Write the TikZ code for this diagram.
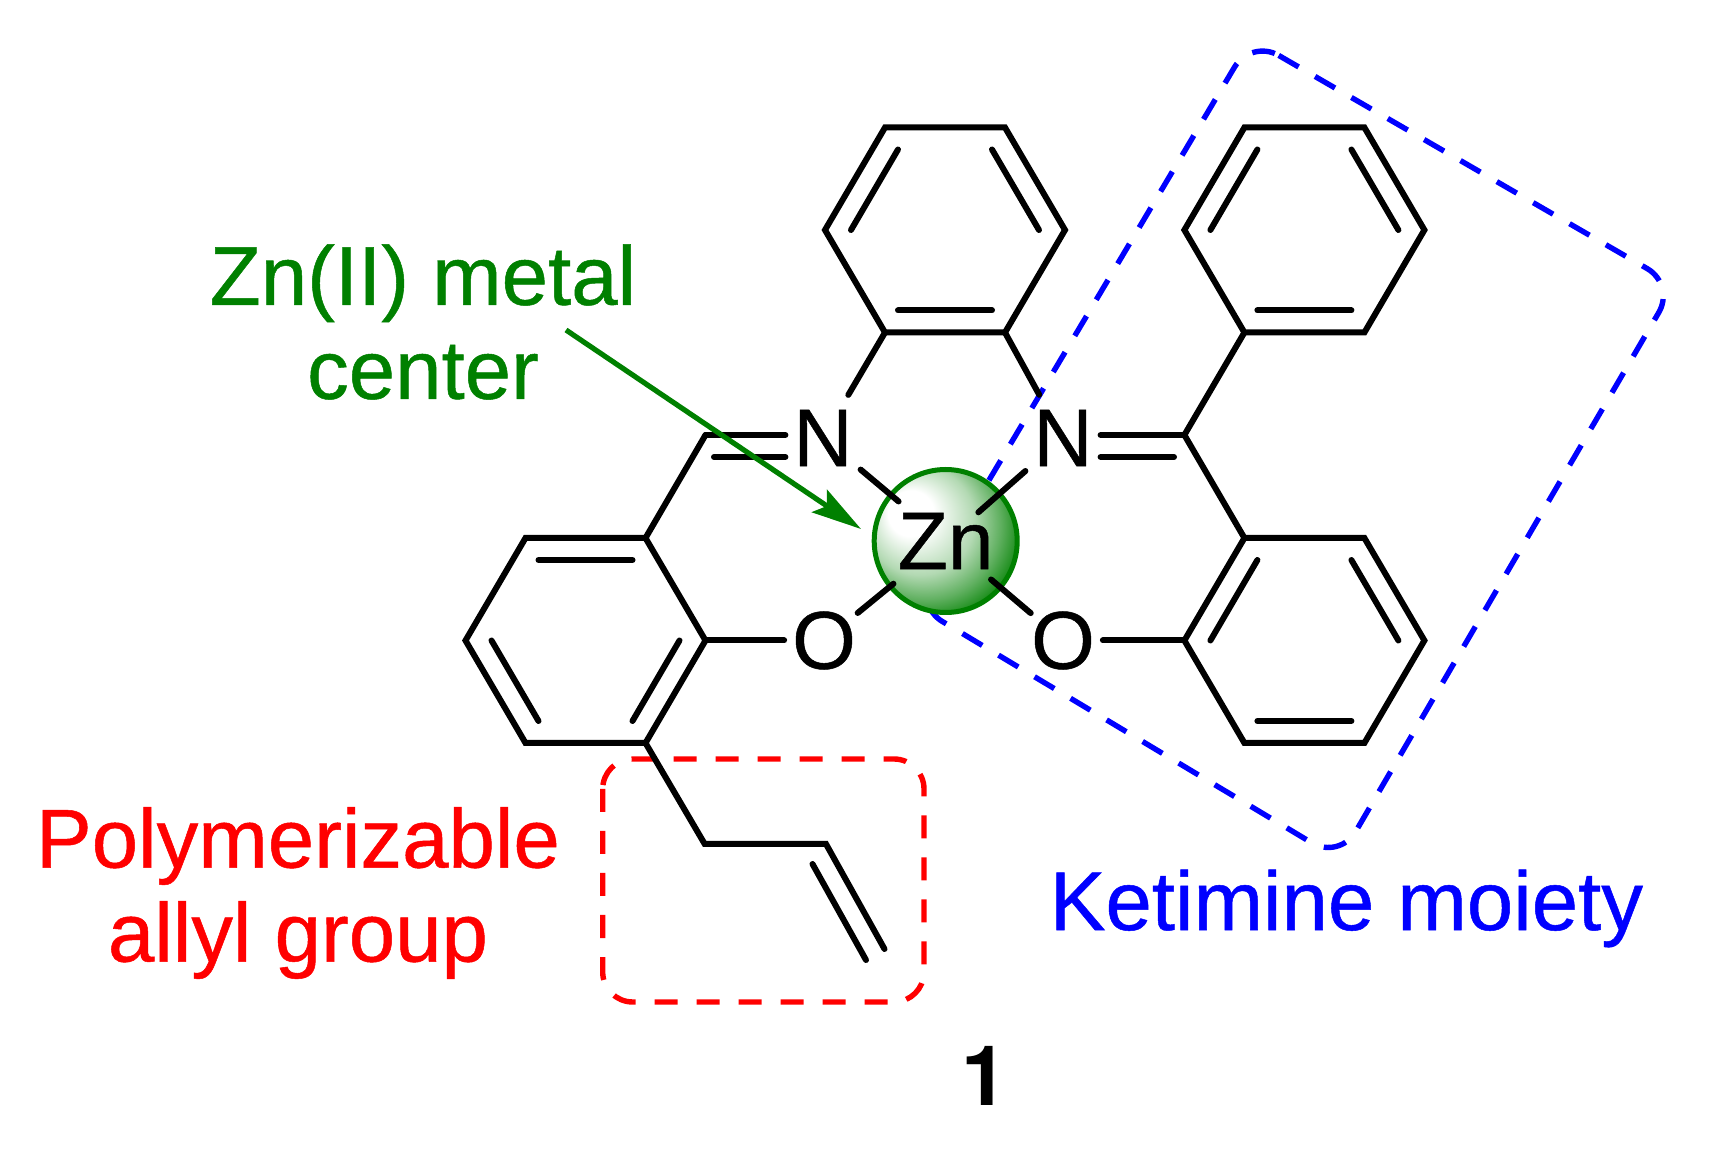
\documentclass[tikz,border=0pt]{standalone}
\usepackage{fontspec}
\setmainfont[FakeBold=0.6]{Liberation Sans}
\newfontfamily\numberfont{TeX Gyre Heros}
\usetikzlibrary{arrows.meta}
\definecolor{znbase}{RGB}{0,128,0}
\pgfdeclareradialshading{znshade}{\pgfpoint{-14.5bp}{11.5bp}}{color(0bp)=(white);color(8bp)=(white);color(19bp)=(znbase!30!white);color(26bp)=(znbase!62!white);color(31bp)=(znbase!88!white);color(35bp)=(znbase);color(50bp)=(znbase)}
\begin{document}
\begin{tikzpicture}[
    x=.5pt,y=-.5pt,
    bond/.style={line width=3pt,line cap=round,black},
    ring/.style={line width=3pt,line cap=round,black},
    atom/.style={font=\fontsize{41}{46}\selectfont,inner sep=4pt,outer sep=0pt},
    caption/.style={font=\fontsize{41.7}{47}\selectfont,align=center,inner sep=0pt},
    frame/.style={line width=2.7pt,dash pattern=on 11.5pt off 9.5pt}
    ]
    \useasboundingbox (0,0) rectangle (1715,1149);

    \draw[frame,blue,rounded corners=16pt] (1251,39.4) -- (1675,284.7) -- (1339.4,859.4) -- (914.8,605) -- cycle;
    \draw[frame,red,rounded corners=15pt] (602.7,759) rectangle (924,1002);

    \node[atom] (nleft) at (823,438) {N};
    \node[atom] (nright) at (1063,438) {N};
    \node[atom] (oleft) at (824,640.5) {O};
    \node[atom] (oright) at (1063,640.5) {O};

    % rings, numbered clockwise from the top left corner
    \foreach \name/\cx/\cy in {lring/585.5/640.5,mring/945/230,tring/1304.4/230,bring/1304.4/640.5} {
      \coordinate (\name1) at (\cx-60,\cy-102.5);
      \coordinate (\name2) at (\cx+60,\cy-102.5);
      \coordinate (\name3) at (\cx+120,\cy);
      \coordinate (\name4) at (\cx+60,\cy+102.5);
      \coordinate (\name5) at (\cx-60,\cy+102.5);
      \coordinate (\name6) at (\cx-120,\cy);
      \coordinate (\name i1) at (\cx-47,\cy-80.5);
      \coordinate (\name i2) at (\cx+47,\cy-80.5);
      \coordinate (\name i3) at (\cx+94,\cy);
      \coordinate (\name i4) at (\cx+47,\cy+80.5);
      \coordinate (\name i5) at (\cx-47,\cy+80.5);
      \coordinate (\name i6) at (\cx-94,\cy);
      \draw[ring] (\name1) -- (\name2) -- (\name3) -- (\name4) -- (\name5) -- (\name6) -- cycle;
    }
    \foreach \name in {mring,tring,bring} {
      \draw[bond] (\name i6) -- (\name i1);
      \draw[bond] (\name i2) -- (\name i3);
      \draw[bond] (\name i4) -- (\name i5);
    }
    \draw[bond] (lringi1) -- (lringi2);
    \draw[bond] (lringi3) -- (lringi4);
    \draw[bond] (lringi5) -- (lringi6);

    % imine carbons
    \coordinate (cleft) at (705.5,435);
    \coordinate (cleftin) at (714,457);
    \coordinate (cright) at (1184.4,435);
    \coordinate (crightin) at (1174,457);
    \draw[bond] (lring2) -- (cleft);
    \draw[bond] (cleft) -- (cleft -| nleft.west);
    \draw[bond] (cleftin) -- (cleftin -| nleft.west);
    \draw[bond] (cright) -- (cright -| nright.east);
    \draw[bond] (crightin) -- (crightin -| nright.east);
    \draw[bond] (cright) -- (bring1);
    \draw[bond] (cright) -- (tring5);
    \draw[bond,shorten >=4pt] (mring5) -- (nleft);
    \draw[bond,shorten >=4pt] (mring4) -- (nright);
    \draw[bond] (lring3) -- (oleft);
    \draw[bond] (bring6) -- (oright);

    % allyl
    \coordinate (ch2) at (704.7,844);
    \coordinate (chvinyl) at (826,844);
    \coordinate (chend) at (884.5,949);
    \coordinate (vinylin) at (812.5,864);
    \coordinate (vinylout) at (866,960);
    \draw[ring] (lring4) -- (ch2) -- (chvinyl) -- (chend);
    \draw[bond] (vinylin) -- (vinylout);

    \node[atom,circle,inner sep=0pt,minimum size=71.5pt,draw=znbase,line width=2.5pt,shade,shading=znshade] (zn) at (945.7,541) {Zn};
    \draw[bond,shorten >=-5pt] (nleft) -- (zn);
    \draw[bond,shorten >=-14pt] (nright) -- (zn);
    \draw[bond,shorten <=-4pt,shorten >=-2pt] (oleft) -- (zn);
    \draw[bond,shorten <=-5pt,shorten >=-6pt] (oright) -- (zn);

    \node[caption,text=znbase] (metal) at (423,322) {Zn(II) metal\\center};
    \node[caption,text=red] (allyl) at (298,893) {Polymerizable\\allyl group};
    \node[caption,text=blue,anchor=base] (ketimine) at (1346.5,930) {Ketimine moiety};
    \node[font=\fontsize{41.7}{47}\selectfont\numberfont\bfseries,inner sep=0pt,anchor=base] (label) at (984.5,1105) {1};

    \coordinate (arrowstart) at (566,330);
    \coordinate (arrowtip) at (861,529);
    \draw[znbase,line width=2.6pt,-{Stealth[length=25pt,width=13.5pt,inset=4.5pt]}] (arrowstart) -- (arrowtip);
\end{tikzpicture}
\end{document}
